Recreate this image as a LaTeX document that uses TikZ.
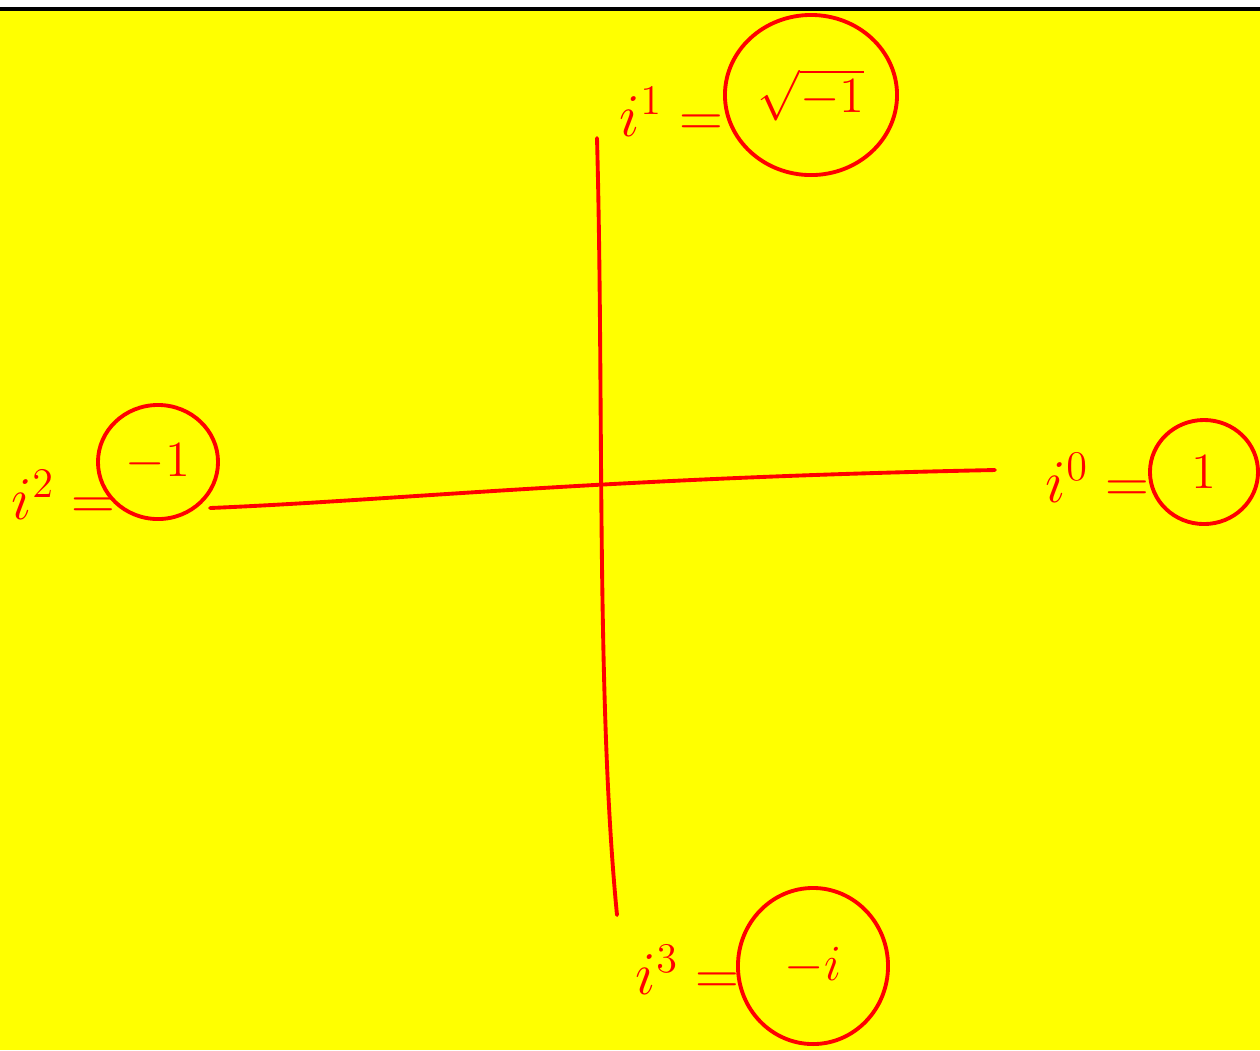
\documentclass[tikz,border=0pt]{standalone}
\usetikzlibrary{shapes.geometric}
\definecolor{bgyellow}{RGB}{255,255,0}
\definecolor{inkred}{RGB}{255,0,0}
\begin{document}
\begin{tikzpicture}[x=0.01cm,y=-0.01cm,
  ink/.style={inkred, line width=1.1pt, line cap=round},
  lab/.style={text=inkred, inner sep=0pt, anchor=east, font=\fontsize{17.28}{20}\selectfont},
  val/.style={ellipse, draw=inkred, line width=1.1pt, text=inkred, inner sep=0pt, font=\fontsize{14.4}{17}\selectfont}]
\useasboundingbox (0,0) rectangle (1260,1050);
\fill[white] (0,0) rectangle (1260,1050);
\fill[bgyellow] (0,10) rectangle (1260,1050);
\draw[black, line width=0.9pt] (0,9) -- (1260,9);
% values (circled)
\node[val, minimum width=1.72cm, minimum height=1.6cm] (v1) at (811,95) {$\sqrt{-1}$};
\node[val, minimum width=1.2cm, minimum height=1.14cm] (v2) at (158,462) {$-1$};
\node[val, minimum width=1.08cm, minimum height=1.04cm] (v0) at (1204,472) {$1$};
\node[val, minimum width=1.5cm, minimum height=1.56cm] (v3) at (813,966) {$-i$};
% labels
\node[lab] (l1) at (724,112) {$i^{1}=$};
\node[lab] (l2) at (116,495) {$i^{2}=$};
\node[lab] (l0) at (1150,478) {$i^{0}=$};
\node[lab] (l3) at (740,970) {$i^{3}=$};
% axes
\coordinate (hL) at (210,508);
\coordinate (hR) at (995,470);
\coordinate (vT) at (597,138);
\coordinate (vB) at (617,915);
\draw[ink] (hL) .. controls (400,500) and (600,478) .. (hR);
\draw[ink] (vT) .. controls (604,400) and (596,700) .. (vB);
\end{tikzpicture}
\end{document}
